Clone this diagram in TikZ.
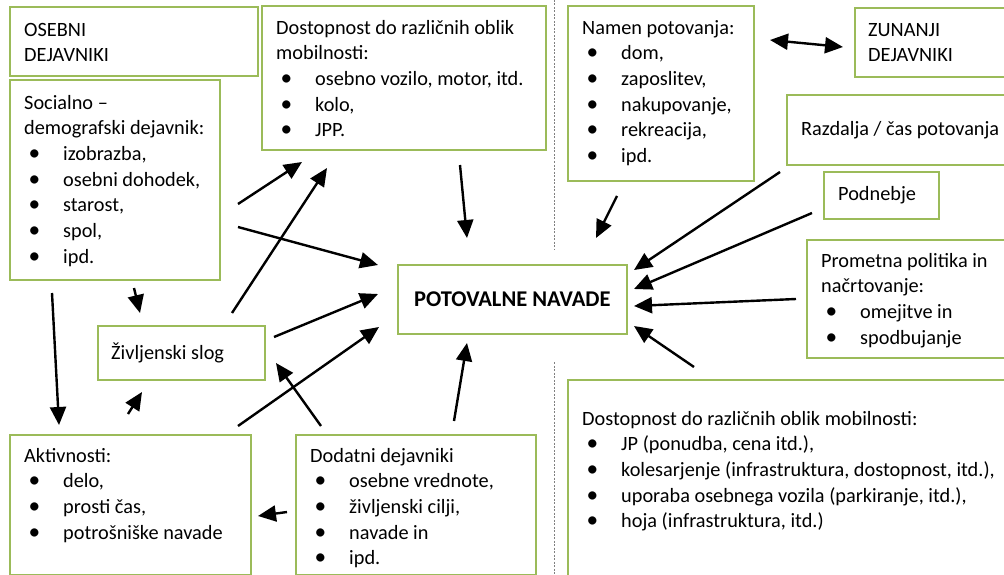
\documentclass[tikz,border=0pt]{standalone}
\usepackage{fontspec}
\setmainfont{Carlito}
\usetikzlibrary{arrows.meta}
\definecolor{boxgreen}{HTML}{9BBB59}
\newcommand{\bodyfont}{\fontsize{20.3}{25.7}\selectfont}
\newcommand{\bitem}[1]{\makebox[39pt][l]{\hspace{4.5pt}\scalebox{1.15}{\textbullet}}#1}

\begin{document}
\begin{tikzpicture}[x=1pt,y=-1pt,font=\bodyfont,
  box/.style={draw=boxgreen,line width=1.8pt,anchor=north west,inner sep=0pt},
  txt/.style={anchor=north west,inner sep=0pt,align=left},
  arr/.style={line width=2.4pt,-{Triangle[length=18pt,width=16pt]}}]
\useasboundingbox (0,0) rectangle (1004,575);
\clip (0,0) rectangle (1004,575);
% left side
\node[box,minimum width=248,minimum height=69] (osebni) at (9,6) {};
\node[txt] at ([shift={(15,12)}]osebni.north west) {\strut OSEBNI\\DEJAVNIKI};
\node[box,minimum width=210,minimum height=200] (soc) at (9,79) {};
\node[txt] at ([shift={(15,12)}]soc.north west) {\strut Socialno –\\demografski dejavnik:\\\bitem{izobrazba,}\\\bitem{osebni dohodek,}\\\bitem{starost,}\\\bitem{spol,}\\\bitem{ipd.}};
\node[box,minimum width=284,minimum height=144] (dost) at (261,5) {};
\node[txt] at ([shift={(15,11)}]dost.north west) {\strut Dostopnost do različnih oblik\\mobilnosti:\\\bitem{osebno vozilo, motor, itd.}\\\bitem{kolo,}\\\bitem{JPP.}};
\node[box,minimum width=167,minimum height=54] (zivl) at (97,325) {};
\node[anchor=west,inner sep=0pt] at ([xshift=14]zivl.west) {Življenski slog};
\node[box,minimum width=241,minimum height=140] (akt) at (9,434) {};
\node[txt] at ([shift={(15,10)}]akt.north west) {\strut Aktivnosti:\\\bitem{delo,}\\\bitem{prosti čas,}\\\bitem{potrošniške navade}};
\node[box,minimum width=240,minimum height=140] (dod) at (295,434) {};
\node[txt] at ([shift={(15,10)}]dod.north west) {\strut Dodatni dejavniki\\\bitem{osebne vrednote,}\\\bitem{življenski cilji,}\\\bitem{navade in}\\\bitem{ipd.}};
\node[box,minimum width=229,minimum height=69,font=\fontsize{22.5}{27}\selectfont\bfseries] (pot) at (397,264) {POTOVALNE NAVADE};
% right side
\draw[gray,line width=0.8pt,dash pattern=on 2pt off 1.5pt] (554,0) -- (554,249) (554,362) -- (554,575);
\node[box,minimum width=186,minimum height=175] (namen) at (567,5) {};
\node[txt] at ([shift={(15,11)}]namen.north west) {\strut Namen potovanja:\\\bitem{dom,}\\\bitem{zaposlitev,}\\\bitem{nakupovanje,}\\\bitem{rekreacija,}\\\bitem{ipd.}};
\node[box,minimum width=166,minimum height=69] (zun) at (854,7) {};
\node[txt] at ([shift={(14,11)}]zun.north west) {\strut ZUNANJI\\DEJAVNIKI};
\node[box,minimum width=234,minimum height=70] (razd) at (786,94) {};
\node[anchor=west,inner sep=0pt] at ([xshift=15]razd.west) {Razdalja / čas potovanja};
\node[box,minimum width=115,minimum height=47] (podn) at (823,171) {};
\node[anchor=west,inner sep=0pt] at ([xshift=15]podn.west) {Podnebje};
\node[box,minimum width=214,minimum height=118] (prom) at (806,239) {};
\node[txt] at ([shift={(15,10)}]prom.north west) {\strut Prometna politika in\\načrtovanje:\\\bitem{omejitve in}\\\bitem{spodbujanje}};
\node[box,minimum width=453,minimum height=211] (dostb) at (567,379) {};
\node[txt] at ([shift={(15,28)}]dostb.north west) {\strut Dostopnost do različnih oblik mobilnosti:\\\bitem{JP (ponudba, cena itd.),}\\\bitem{kolesarjenje (infrastruktura, dostopnost, itd.),}\\\bitem{uporaba osebnega vozila (parkiranje, itd.),}\\\bitem{hoja (infrastruktura, itd.)}};
% arrow ends
\coordinate (soc1) at (238,204); \coordinate (dost1) at (302,162);
\coordinate (soc2) at (238,227); \coordinate (pot1) at (378,265);
\coordinate (zivl1) at (232,313); \coordinate (dost2) at (327,168);
\coordinate (dost3) at (460,165); \coordinate (pot2) at (467,238);
\coordinate (soc3) at (134,288); \coordinate (zivl2) at (140,313);
\coordinate (soc4) at (52,293); \coordinate (akt1) at (59,425);
\coordinate (akt2) at (128,414); \coordinate (zivl3) at (142,392);
\coordinate (zivl4) at (274,337); \coordinate (pot3) at (378,294);
\coordinate (akt3) at (238,426); \coordinate (pot4) at (379,327);
\coordinate (dod1) at (321,426); \coordinate (zivl5) at (276,363);
\coordinate (dod2) at (454,421); \coordinate (pot5) at (467,343);
\coordinate (dod3) at (287,512); \coordinate (akt4) at (258,516);
\coordinate (namen1) at (617,196); \coordinate (pot6) at (596,238);
\coordinate (namen2) at (770,40); \coordinate (zun1) at (843,47);
\coordinate (razd1) at (780,172); \coordinate (pot7) at (634,270);
\coordinate (podn1) at (812,213); \coordinate (pot8) at (634,289);
\coordinate (prom1) at (796,299); \coordinate (pot9) at (634,306);
\coordinate (dostb1) at (694,367); \coordinate (pot10) at (634,326);
% arrows
\draw[arr] (soc1)--(dost1);
\draw[arr] (soc2)--(pot1);
\draw[arr] (zivl1)--(dost2);
\draw[arr] (dost3)--(pot2);
\draw[arr] (soc3)--(zivl2);
\draw[arr] (soc4)--(akt1);
\draw[arr] (akt2)--(zivl3);
\draw[arr] (zivl4)--(pot3);
\draw[arr] (akt3)--(pot4);
\draw[arr] (dod1)--(zivl5);
\draw[arr] (dod2)--(pot5);
\draw[arr] (dod3)--(akt4);
\draw[arr] (namen1)--(pot6);
\draw[arr,{Triangle[length=18pt,width=16pt]}-{Triangle[length=18pt,width=16pt]}] (namen2)--(zun1);
\draw[arr] (razd1)--(pot7);
\draw[arr] (podn1)--(pot8);
\draw[arr] (prom1)--(pot9);
\draw[arr] (dostb1)--(pot10);
\end{tikzpicture}
\end{document}
